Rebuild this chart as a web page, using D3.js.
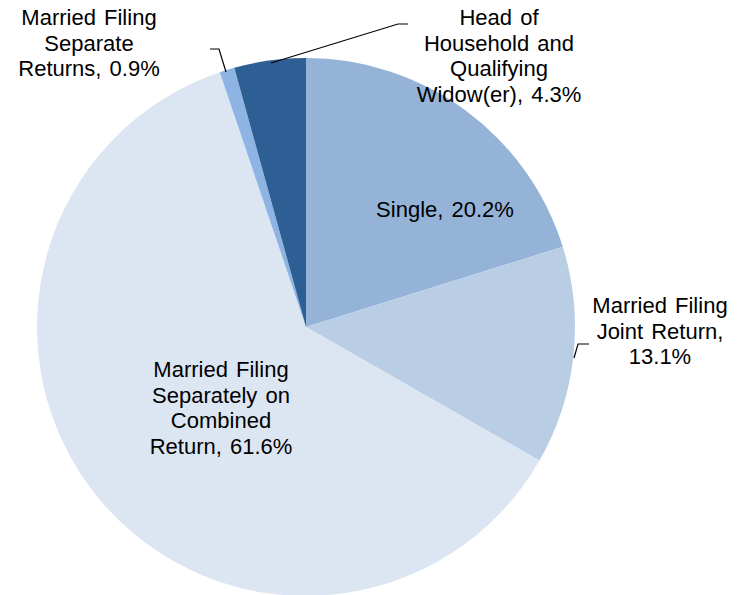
<!DOCTYPE html>
<html>
<head>
<meta charset="utf-8">
<script src="https://cdn.jsdelivr.net/npm/d3@7"></script>
<style>
  body { margin: 0; background: #fff; }
  text { font-family: "Liberation Sans", Arial, sans-serif; font-size: 22px; fill: #000; word-spacing: 2px; }
</style>
</head>
<body>
<div id="chart"></div>
<script>
// slices, clockwise from 12 o'clock
const categories = ["Single", "Married Filing Joint Return", "Married Filing Separately on Combined Return", "Married Filing Separate Returns", "Head of Household and Qualifying Widow(er)"];
const values = [20.2, 13.1, 61.6, 0.9, 4.3];
const labelLines = [
    ["Single, 20.2%"],
    ["Married Filing", "Joint Return,", "13.1%"],
    ["Married Filing", "Separately on", "Combined", "Return, 61.6%"],
    ["Married Filing", "Separate", "Returns, 0.9%"],
    ["Head of", "Household and", "Qualifying", "Widow(er), 4.3%"]
];
const colors = ["#95B3D7", "#B9CDE5", "#DCE6F2", "#8EB4E3", "#2E5F94"];

// label layout: x center, first baseline; leader = polyline points or null
const labelPos = [
    {x: 445, y: 217, leader: null},
    {x: 660, y: 313, leader: [[574, 358], [578, 344], [589, 344]]},
    {x: 221, y: 377, leader: null},
    {x: 89, y: 25, leader: [[226, 72], [219, 49], [210, 49]]},
    {x: 499, y: 25, leader: [[271, 63], [398, 24], [408, 24]]}
];

const width = 750, height = 595;
const cx = 306, cy = 327, radius = 269;
const lineH = 25.7;

let svg = d3.select("#chart").append("svg")
    .attr("width", width)
    .attr("height", height);

let pie = d3.pie().sort(null).value(function(d){ return d; });
let arc = d3.arc().innerRadius(0).outerRadius(radius);

let g = svg.append("g").attr("transform", "translate(" + [cx, cy] + ")");

g.selectAll("path")
    .data(pie(values))
    .enter().append("path")
    .attr("d", arc)
    .attr("fill", function(d, i){ return colors[i]; });

// leader lines
svg.append("g")
    .selectAll("polyline")
    .data(labelPos.filter(function(d){ return d.leader; }))
    .enter().append("polyline")
    .attr("points", function(d){ return d.leader.join(" "); })
    .attr("fill", "none")
    .attr("stroke", "#000")
    .attr("stroke-width", 1.2);

let labels = svg.append("g")
    .selectAll("text")
    .data(labelLines)
    .enter().append("text")
    .attr("text-anchor", "middle")
    .attr("x", function(d, i){ return labelPos[i].x; })
    .attr("y", function(d, i){ return labelPos[i].y; });

labels.each(function(lines, i) {
    d3.select(this).selectAll("tspan")
        .data(lines)
        .enter().append("tspan")
        .attr("x", labelPos[i].x)
        .attr("y", function(l, j){ return labelPos[i].y + j * lineH; })
        .text(function(l){ return l; });
});
</script>
</body>
</html>
